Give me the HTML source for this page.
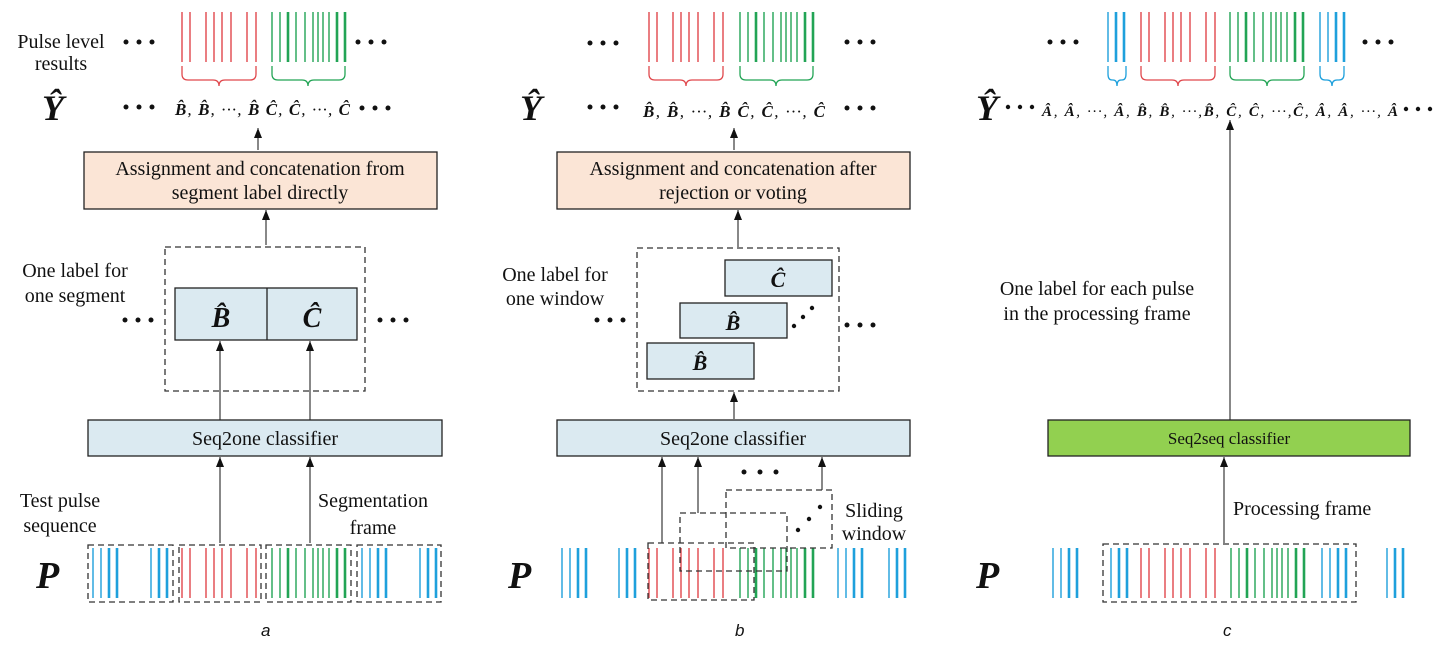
<!DOCTYPE html>
<html><head><meta charset="utf-8"><style>
html,body{margin:0;padding:0;background:#fff;}
svg{display:block;}
text{font-family:"Liberation Serif",serif;fill:#111;}
.t{font-size:20px;}
.bi{font-weight:bold;font-style:italic;}
</style></head><body>
<svg width="1442" height="646" viewBox="0 0 1442 646" xmlns="http://www.w3.org/2000/svg">
<defs>
<g id="red" stroke="#e0474c" stroke-width="1.4">
<path d="M0 0V50M8 0V50M24 0V50M32 0V50M40 0V50M49 0V50M65 0V50M74 0V50"/></g>
<g id="green" stroke="#22a455" stroke-width="1.4">
<path d="M0 0V50M8 0V50M24 0V50M33 0V50M41 0V50M46 0V50M51 0V50M57 0V50"/>
<path stroke-width="2.6" d="M16 0V50M65 0V50M73 0V50"/></g>
<g id="blue4" stroke="#1ea0dc" stroke-width="1.4"><path d="M0 0V50M8 0V50"/><path stroke-width="2.6" d="M16 0V50M24 0V50"/></g>
<g id="blue3" stroke="#1ea0dc" stroke-width="1.4"><path d="M0 0V50"/><path stroke-width="2.6" d="M8 0V50M16 0V50"/></g>
<marker id="ar" markerWidth="10" markerHeight="8" refX="10" refY="4" orient="auto" markerUnits="userSpaceOnUse" viewBox="0 0 10 8"><path d="M0 0L10 4L0 8Z" fill="#111"/></marker>
</defs>

<g fill="none">
<!-- ========== Panel a ========== -->
<use href="#red" x="182" y="12"/><use href="#green" x="272" y="12"/>
<path stroke="#e0474c" stroke-width="1.3" d="M182 66v8q0 6 6 6H213q6 0 6 6q0-6 6-6H250q6 0 6-6v-8"/>
<path stroke="#22a455" stroke-width="1.3" d="M272 66v8q0 6 6 6H302q6 0 6 6q0-6 6-6H339q6 0 6-6v-8"/>
<line x1="258" y1="150" x2="258" y2="128" stroke="#111" marker-end="url(#ar)"/>
<rect x="84" y="152" width="353" height="57" fill="#fbe5d6" stroke="#222" stroke-width="1.3"/>
<line x1="266" y1="245" x2="266" y2="210" stroke="#111" marker-end="url(#ar)"/>
<rect x="165" y="247" width="200" height="144" stroke="#333" stroke-width="1.3" stroke-dasharray="6 4"/>
<rect x="175" y="288" width="182" height="52" fill="#dbeaf1" stroke="#222" stroke-width="1.3"/>
<line x1="267" y1="288" x2="267" y2="340" stroke="#222" stroke-width="1.3"/>
<line x1="220" y1="420" x2="220" y2="341" stroke="#111" marker-end="url(#ar)"/>
<line x1="310" y1="420" x2="310" y2="341" stroke="#111" marker-end="url(#ar)"/>
<rect x="88" y="420" width="354" height="36" fill="#dbeaf1" stroke="#222" stroke-width="1.3"/>
<line x1="220" y1="543" x2="220" y2="457" stroke="#111" marker-end="url(#ar)"/>
<line x1="310" y1="543" x2="310" y2="457" stroke="#111" marker-end="url(#ar)"/>
<g stroke="#333" stroke-width="1.3" stroke-dasharray="6 4">
<rect x="88" y="545" width="85" height="57"/><rect x="179" y="545" width="82" height="57"/>
<rect x="266" y="545" width="85" height="57"/><rect x="357" y="545" width="84" height="57"/></g>
<use href="#blue4" x="93" y="548"/><use href="#blue3" x="151" y="548"/>
<use href="#red" x="182" y="548"/><use href="#green" x="272" y="548"/>
<use href="#blue4" x="362" y="548"/><use href="#blue3" x="420" y="548"/>

<!-- ========== Panel b ========== -->
<use href="#red" x="649" y="12"/><use href="#green" x="740" y="12"/>
<path stroke="#e0474c" stroke-width="1.3" d="M649 66v8q0 6 6 6H680q6 0 6 6q0-6 6-6H717q6 0 6-6v-8"/>
<path stroke="#22a455" stroke-width="1.3" d="M740 66v8q0 6 6 6H770q6 0 6 6q0-6 6-6H807q6 0 6-6v-8"/>
<line x1="734" y1="150" x2="734" y2="128" stroke="#111" marker-end="url(#ar)"/>
<rect x="557" y="152" width="353" height="57" fill="#fbe5d6" stroke="#222" stroke-width="1.3"/>
<line x1="738" y1="247" x2="738" y2="210" stroke="#111" marker-end="url(#ar)"/>
<rect x="637" y="248" width="202" height="143" stroke="#333" stroke-width="1.3" stroke-dasharray="6 4"/>
<rect x="725" y="260" width="107" height="36" fill="#dbeaf1" stroke="#222" stroke-width="1.3"/>
<rect x="680" y="303" width="107" height="35" fill="#dbeaf1" stroke="#222" stroke-width="1.3"/>
<rect x="647" y="343" width="107" height="36" fill="#dbeaf1" stroke="#222" stroke-width="1.3"/>
<line x1="734" y1="419" x2="734" y2="392" stroke="#111" marker-end="url(#ar)"/>
<rect x="557" y="420" width="353" height="36" fill="#dbeaf1" stroke="#222" stroke-width="1.3"/>
<line x1="662" y1="543" x2="662" y2="457" stroke="#111" marker-end="url(#ar)"/>
<line x1="698" y1="513" x2="698" y2="457" stroke="#111" marker-end="url(#ar)"/>
<line x1="822" y1="490" x2="822" y2="457" stroke="#111" marker-end="url(#ar)"/>
<use href="#blue4" x="562" y="548"/><use href="#blue3" x="619" y="548"/>
<use href="#red" x="649" y="548"/><use href="#green" x="740" y="548"/>
<use href="#blue4" x="838" y="548"/><use href="#blue3" x="889" y="548"/>
<g stroke="#333" stroke-width="1.3" stroke-dasharray="6 4">
<rect x="648" y="543" width="106" height="57"/><rect x="680" y="513" width="107" height="58"/>
<rect x="726" y="490" width="106" height="58"/></g>

<!-- ========== Panel c ========== -->
<use href="#blue3" x="1108" y="12"/><use href="#red" x="1141" y="12"/><use href="#green" x="1230" y="12"/><use href="#blue4" x="1320" y="12"/>
<path stroke="#1ea0dc" stroke-width="1.3" d="M1108 66v8q0 6 4 6h1q4 0 4 6q0-6 4-6h1q4 0 4-6v-8"/>
<path stroke="#e0474c" stroke-width="1.3" d="M1141 66v8q0 6 6 6H1172q6 0 6 6q0-6 6-6H1209q6 0 6-6v-8"/>
<path stroke="#22a455" stroke-width="1.3" d="M1230 66v8q0 6 6 6H1261q6 0 6 6q0-6 6-6H1298q6 0 6-6v-8"/>
<path stroke="#1ea0dc" stroke-width="1.3" d="M1320 66v8q0 6 5 6h2q5 0 5 6q0-6 5-6h2q5 0 5-6v-8"/>
<line x1="1230" y1="420" x2="1230" y2="120" stroke="#111" marker-end="url(#ar)"/>
<rect x="1048" y="420" width="362" height="36" fill="#92d050" stroke="#222" stroke-width="1.3"/>
<line x1="1224" y1="543" x2="1224" y2="457" stroke="#111" marker-end="url(#ar)"/>
<rect x="1103" y="544" width="253" height="58" stroke="#333" stroke-width="1.3" stroke-dasharray="6 4"/>
<use href="#blue4" x="1053" y="548"/><use href="#blue3" x="1111" y="548"/>
<use href="#red" x="1141" y="548"/><use href="#green" x="1231" y="548"/>
<use href="#blue4" x="1322" y="548"/><use href="#blue3" x="1387" y="548"/>
</g>

<!-- dots -->
<g fill="#111">
<circle cx="126" cy="42" r="2.5"/><circle cx="139" cy="42" r="2.5"/><circle cx="152" cy="42" r="2.5"/>
<circle cx="358" cy="42" r="2.5"/><circle cx="371" cy="42" r="2.5"/><circle cx="384" cy="42" r="2.5"/>
<circle cx="126" cy="107" r="2.5"/><circle cx="139" cy="107" r="2.5"/><circle cx="152" cy="107" r="2.5"/>
<circle cx="362" cy="108" r="2.5"/><circle cx="375" cy="108" r="2.5"/><circle cx="388" cy="108" r="2.5"/>
<circle cx="125" cy="320" r="2.5"/><circle cx="138" cy="320" r="2.5"/><circle cx="151" cy="320" r="2.5"/>
<circle cx="380" cy="320" r="2.5"/><circle cx="393" cy="320" r="2.5"/><circle cx="406" cy="320" r="2.5"/>

<circle cx="590" cy="43" r="2.5"/><circle cx="603" cy="43" r="2.5"/><circle cx="616" cy="43" r="2.5"/>
<circle cx="847" cy="42" r="2.5"/><circle cx="860" cy="42" r="2.5"/><circle cx="873" cy="42" r="2.5"/>
<circle cx="590" cy="107" r="2.5"/><circle cx="603" cy="107" r="2.5"/><circle cx="616" cy="107" r="2.5"/>
<circle cx="847" cy="108" r="2.5"/><circle cx="860" cy="108" r="2.5"/><circle cx="873" cy="108" r="2.5"/>
<circle cx="597" cy="320" r="2.5"/><circle cx="610" cy="320" r="2.5"/><circle cx="623" cy="320" r="2.5"/>
<circle cx="847" cy="325" r="2.5"/><circle cx="860" cy="325" r="2.5"/><circle cx="873" cy="325" r="2.5"/>
<circle cx="794" cy="326" r="2.2"/><circle cx="803" cy="317" r="2.2"/><circle cx="812" cy="308" r="2.2"/>
<circle cx="744" cy="472" r="2.5"/><circle cx="760" cy="472" r="2.5"/><circle cx="776" cy="472" r="2.5"/>
<circle cx="798" cy="530" r="2.2"/><circle cx="809" cy="519" r="2.2"/><circle cx="820" cy="507" r="2.2"/>

<circle cx="1050" cy="42" r="2.5"/><circle cx="1063" cy="42" r="2.5"/><circle cx="1076" cy="42" r="2.5"/>
<circle cx="1365" cy="42" r="2.5"/><circle cx="1378" cy="42" r="2.5"/><circle cx="1391" cy="42" r="2.5"/>
<circle cx="1008" cy="107" r="2.2"/><circle cx="1020" cy="107" r="2.2"/><circle cx="1032" cy="107" r="2.2"/>
<circle cx="1406" cy="109" r="2.2"/><circle cx="1418" cy="109" r="2.2"/><circle cx="1430" cy="109" r="2.2"/>
</g>

<!-- Texts panel a -->
<text class="t" x="61" y="48" text-anchor="middle">Pulse level</text>
<text class="t" x="61" y="70" text-anchor="middle">results</text>
<text class="bi" x="42" y="120" font-size="36">Ŷ</text>
<text x="175" y="115" font-size="17" class="bi" textLength="175" lengthAdjust="spacing">B̂<tspan font-weight="normal">, </tspan>B̂<tspan font-weight="normal">,  ···, </tspan>B̂ Ĉ<tspan font-weight="normal">, </tspan>Ĉ<tspan font-weight="normal">,  ···, </tspan>Ĉ</text>
<text class="t" x="260" y="175" text-anchor="middle">Assignment and concatenation from</text>
<text class="t" x="260" y="199" text-anchor="middle">segment label directly</text>
<text class="t" x="75" y="277" text-anchor="middle">One label for</text>
<text class="t" x="75" y="302" text-anchor="middle">one segment</text>
<text class="bi" x="221" y="327" font-size="28" text-anchor="middle">B̂</text>
<text class="bi" x="312" y="327" font-size="28" text-anchor="middle">Ĉ</text>
<text class="t" x="265" y="445" text-anchor="middle">Seq2one classifier</text>
<text class="t" x="60" y="507" text-anchor="middle">Test pulse</text>
<text class="t" x="60" y="532" text-anchor="middle">sequence</text>
<text class="t" x="373" y="507" text-anchor="middle">Segmentation</text>
<text class="t" x="373" y="534" text-anchor="middle">frame</text>
<text class="bi" x="36" y="588" font-size="38">P</text>
<text x="261" y="636" font-size="17" font-style="italic" style="font-family:'Liberation Sans',sans-serif">a</text>

<!-- panel b -->
<text class="bi" x="520" y="120" font-size="36">Ŷ</text>
<text x="643" y="117" font-size="17" class="bi" textLength="182" lengthAdjust="spacing">B̂<tspan font-weight="normal">, </tspan>B̂<tspan font-weight="normal">,  ···, </tspan>B̂ Ĉ<tspan font-weight="normal">, </tspan>Ĉ<tspan font-weight="normal">,  ···, </tspan>Ĉ</text>
<text class="t" x="733" y="175" text-anchor="middle">Assignment and concatenation after</text>
<text class="t" x="733" y="199" text-anchor="middle">rejection or voting</text>
<text class="t" x="555" y="281" text-anchor="middle">One label for</text>
<text class="t" x="555" y="305" text-anchor="middle">one window</text>
<text class="bi" x="778" y="287" font-size="22" text-anchor="middle">Ĉ</text>
<text class="bi" x="733" y="330" font-size="22" text-anchor="middle">B̂</text>
<text class="bi" x="700" y="370" font-size="22" text-anchor="middle">B̂</text>
<text class="t" x="733" y="445" text-anchor="middle">Seq2one classifier</text>
<text class="t" x="874" y="517" text-anchor="middle">Sliding</text>
<text class="t" x="874" y="540" text-anchor="middle">window</text>
<text class="bi" x="508" y="588" font-size="38">P</text>
<text x="735" y="636" font-size="17" font-style="italic" style="font-family:'Liberation Sans',sans-serif">b</text>

<!-- panel c -->
<text class="bi" x="976" y="120" font-size="36">Ŷ</text>
<text x="1042" y="116" font-size="15" class="bi" textLength="356" lengthAdjust="spacing">Â<tspan font-weight="normal">, </tspan>Â<tspan font-weight="normal">,  ···, </tspan>Â<tspan font-weight="normal">, </tspan>B̂<tspan font-weight="normal">, </tspan>B̂<tspan font-weight="normal">,  ···,</tspan>B̂<tspan font-weight="normal">, </tspan>Ĉ<tspan font-weight="normal">, </tspan>Ĉ<tspan font-weight="normal">,  ···,</tspan>Ĉ<tspan font-weight="normal">, </tspan>Â<tspan font-weight="normal">, </tspan>Â<tspan font-weight="normal">,  ···, </tspan>Â</text>
<text class="t" x="1097" y="295" text-anchor="middle">One label for each pulse</text>
<text class="t" x="1097" y="320" text-anchor="middle">in the processing frame</text>
<text x="1229" y="444" font-size="17" text-anchor="middle">Seq2seq classifier</text>
<text class="t" x="1233" y="515">Processing frame</text>
<text class="bi" x="976" y="588" font-size="38">P</text>
<text x="1223" y="636" font-size="17" font-style="italic" style="font-family:'Liberation Sans',sans-serif">c</text>
</svg>
</body></html>
